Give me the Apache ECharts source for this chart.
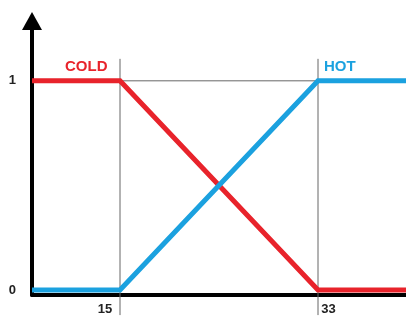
<!DOCTYPE html>
<html>
<head>
<meta charset="utf-8">
<script src="https://cdn.jsdelivr.net/npm/echarts@6/dist/echarts.min.js"></script>
<style>
  html, body { margin: 0; padding: 0; background: #fff; }
  #chart { width: 406px; height: 316px; }
</style>
</head>
<body>
<div id="chart"></div>
<script>
// membership functions, x = temperature
const coldPoints = [[7, 1], [15, 1], [33, 0], [41, 0]]
const hotPoints = [[7, 0], [15, 0], [33, 1], [41, 1]]
const guideX = [15, 33]
const xTicks = [15, 33]
const yTicks = [0, 1]
const seriesNames = ['COLD', 'HOT']

const red = '#e8232b'
const blue = '#1ba1df'
const guide = '#666'

const chart = echarts.init(document.getElementById('chart'))

const guideSeries = guideX.map(x => ({
  type: 'line',
  data: [[x, -0.12], [x, 1.105]],
  symbol: 'none',
  clip: false,
  silent: true,
  lineStyle: { color: guide, width: 1 },
  z: 1
}))

chart.setOption({
  animation: false,
  grid: { left: 32, right: 0, top: 21, bottom: 20 },
  xAxis: {
    type: 'value',
    min: 7,
    max: 41,
    axisLine: { onZero: false, lineStyle: { color: '#000', width: 4 } },
    axisTick: { show: false },
    splitLine: { show: false },
    axisLabel: {
      customValues: xTicks,
      margin: 8,
      fontSize: 13,
      fontWeight: 'bold',
      color: '#222',
      fontFamily: 'Liberation Sans',
      formatter: v => v === xTicks[0] ? '{l|' + v + '}' : '{r|' + v + '}',
      rich: {
        l: { padding: [0, 30, 0, 0], fontSize: 13, fontWeight: 'bold', color: '#222' },
        r: { padding: [0, 0, 0, 21], fontSize: 13, fontWeight: 'bold', color: '#222' }
      }
    }
  },
  yAxis: {
    type: 'value',
    min: -0.024,
    max: 1.286,
    axisLine: {
      onZero: false,
      symbol: ['none', 'triangle'],
      symbolSize: [20, 18],
      lineStyle: { color: '#000', width: 4 }
    },
    axisTick: { show: false },
    splitLine: { show: false },
    axisLabel: {
      customValues: yTicks,
      margin: 16,
      fontSize: 13,
      fontWeight: 'bold',
      color: '#222',
      fontFamily: 'Liberation Sans'
    }
  },
  graphic: [
    { type: 'text', left: 65, top: 59, style: { text: seriesNames[0], fill: red, font: 'bold 15px "Liberation Sans"' } },
    { type: 'text', left: 324, top: 59, style: { text: seriesNames[1], fill: blue, font: 'bold 15px "Liberation Sans"' } }
  ],
  series: guideSeries.concat([
    {
      type: 'line',
      data: [[15, 1], [33, 1]],
      symbol: 'none',
      silent: true,
      lineStyle: { color: guide, width: 1 },
      z: 1
    },
    {
      name: seriesNames[0],
      type: 'line',
      data: coldPoints,
      symbol: 'none',
      lineStyle: { color: red, width: 5, join: 'miter' },
      z: 2
    },
    {
      name: seriesNames[1],
      type: 'line',
      data: hotPoints,
      symbol: 'none',
      lineStyle: { color: blue, width: 5, join: 'miter' },
      z: 3
    }
  ])
})
</script>
</body>
</html>
